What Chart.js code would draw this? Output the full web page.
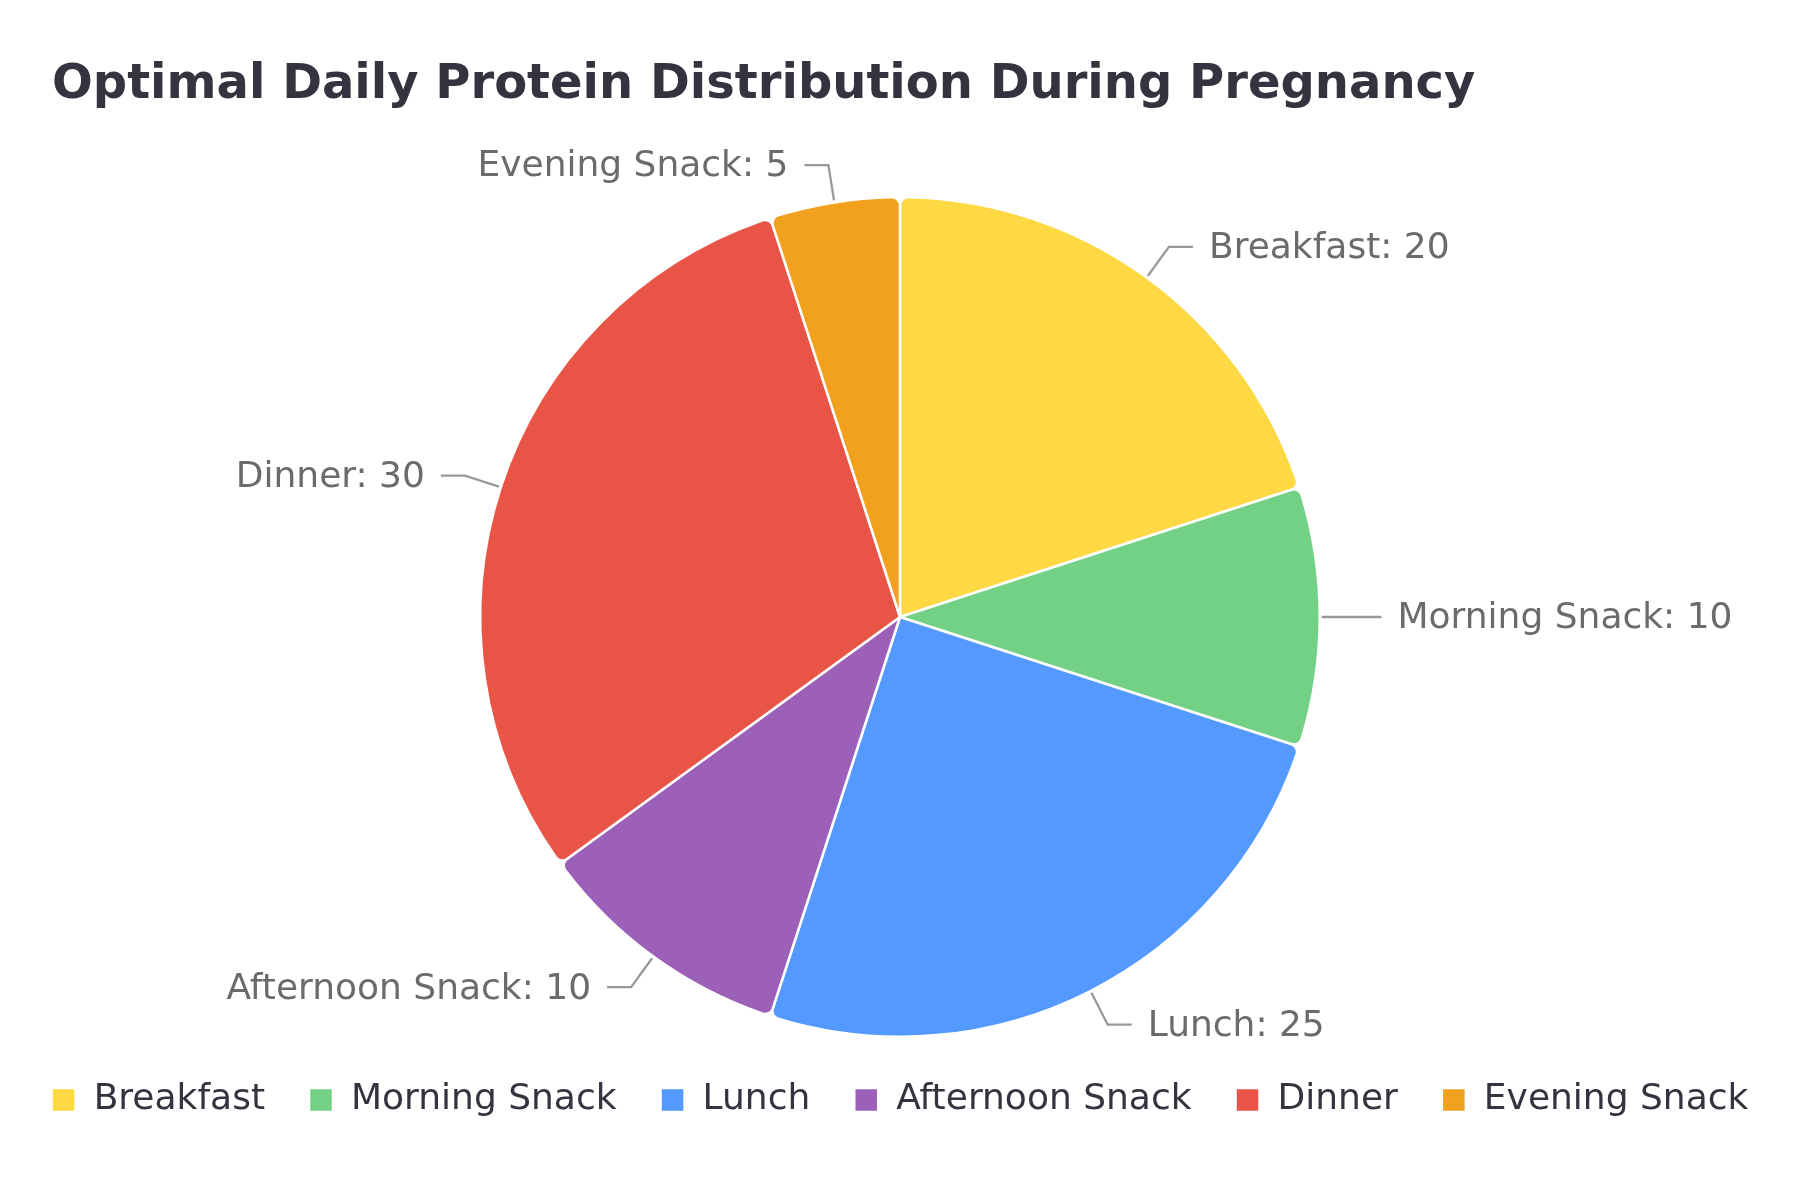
<!DOCTYPE html>
<html><head><meta charset="utf-8">
<script src="https://cdn.jsdelivr.net/npm/chart.js@4/dist/chart.umd.min.js"></script>
<style>html,body{margin:0;padding:0;background:#fff}#w{width:1800px;height:1200px}</style>
</head><body><div id="w"><canvas id="c"></canvas></div>
<script>
const categories = ["Breakfast","Morning Snack","Lunch","Afternoon Snack","Dinner","Evening Snack"];
const values = [20,10,25,10,30,5];
const colors = ["#FFD944","#73D186","#5399FF","#9D60B8","#E85547","#F2A11F"];
const titleText = 'Optimal Daily Protein Distribution During Pregnancy';
const font = "'DejaVu Sans', sans-serif";

const outLabels = {
  id:'outLabels',
  afterDatasetsDraw(chart){
    const ctx = chart.ctx;
    const meta = chart.getDatasetMeta(0);
    ctx.save();
    ctx.fillStyle = '#33343f'; ctx.font = `bold 48px ${font}`;
    ctx.textAlign='left'; ctx.textBaseline='alphabetic';
    ctx.fillText(titleText, 52, 98);
    meta.data.forEach((arc,i)=>{
      const a = (arc.startAngle+arc.endAngle)/2;
      const r = arc.outerRadius;
      const cx = arc.x, cy = arc.y;
      const x0 = cx+Math.cos(a)*(r+2), y0 = cy+Math.sin(a)*(r+2);
      const x1 = cx+Math.cos(a)*(r*1.09), y1 = cy+Math.sin(a)*(r*1.09);
      const right = Math.cos(a) >= 0;
      const x2 = x1 + (right?24:-24);
      ctx.strokeStyle = '#999'; ctx.lineWidth = 2.3;
      ctx.beginPath(); ctx.moveTo(x0,y0); ctx.lineTo(x1,y1); ctx.lineTo(x2,y1); ctx.stroke();
      ctx.fillStyle = '#6b6b6b'; ctx.font = `36px ${font}`;
      ctx.textBaseline='middle'; ctx.textAlign = right?'left':'right';
      ctx.fillText(categories[i]+': '+values[i], x2+(right?16:-16), y1+2);
    });
    ctx.restore();
  }
};

new Chart(document.getElementById('c'),{
  type:'pie',
  data:{labels:categories,datasets:[{data:values,backgroundColor:colors,borderColor:'#fff',borderWidth:2.5,borderRadius:8}]},
  options:{
    responsive:true,maintainAspectRatio:false,animation:false,
    layout:{padding:{top:196,bottom:72,left:0,right:0}},
    plugins:{
      title:{display:false},
      legend:{position:'bottom',labels:{boxWidth:24,boxHeight:24,padding:44,color:'#33343f',font:{family:font,size:36}}},
      tooltip:{enabled:false}
    }
  },
  plugins:[outLabels]
});
</script></body></html>
